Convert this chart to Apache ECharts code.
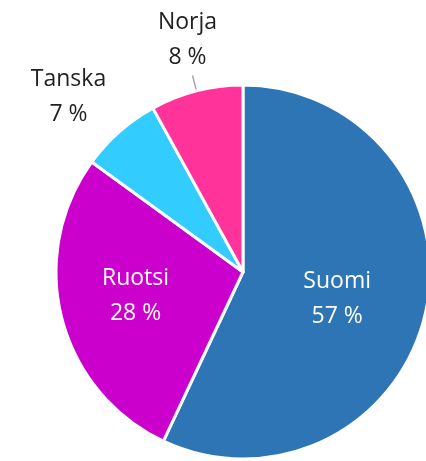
<!DOCTYPE html>
<html lang="fi">
<head>
	<meta charset="utf-8">
	<title>Pie</title>
	<script src="https://cdn.jsdelivr.net/npm/echarts@6/dist/echarts.min.js"></script>
	<style type="text/css">
		html, body {margin:0;padding:0;background:#FFFFFF}
		#chart {width:426px;height:461px}
	</style>
</head>
<body>
	<div id="chart"></div>
	<script>
		// maat ja osuudet (%), myötäpäivään klo 12:sta
		var countries = ["Suomi", "Ruotsi", "Tanska", "Norja"];
		var shares = [57, 28, 7, 8];
		var colors = ["#2E75B6", "#CC00CC", "#33CCFF", "#FF3399"];
		var insideLabel = [true, true, false, false];

		var myChart = echarts.init(document.getElementById("chart"));

		var data = [];
		for (var i = 0; i < countries.length; i++) {
			var item = {
				name: countries[i],
				value: shares[i],
				itemStyle: {color: colors[i]}
			};
			if (insideLabel[i]) {
				item.label = {position: "inside", color: "#FFFFFF"};
				item.labelLine = {show: false};
			} else {
				item.label = {position: "outside", color: "#222222"};
			}
			data.push(item);
		}
		// Tanska ilman viivaa
		data[2].labelLine = {show: false, length: 30, length2: 0};
		data[3].labelLine = {show: true, length: 16, length2: 0, lineStyle: {color: "#A6A6A6", width: 1.5}};

		var option = {
			animation: false,
			series: [{
				type: "pie",
				center: [243, 272],
				radius: 187,
				startAngle: 90,
				clockwise: true,
				avoidLabelOverlap: false,
				itemStyle: {borderColor: "#FFFFFF", borderWidth: 3},
				label: {
					formatter: "{b}\n{c} %",
					fontFamily: "Open Sans",
					fontSize: 23,
					lineHeight: 35,
					align: "center"
				},
				labelLayout: function (params) {
					if (params.dataIndex === 0) return {dy: 6};
					if (params.dataIndex === 1) return {dx: -14, dy: 0};
					if (params.dataIndex === 2) return {align: "center", dx: -26, dy: -12};
					return {align: "center", verticalAlign: "bottom"};
				},
				data: data
			}]
		};
		myChart.setOption(option);
	</script>
</body>
</html>
